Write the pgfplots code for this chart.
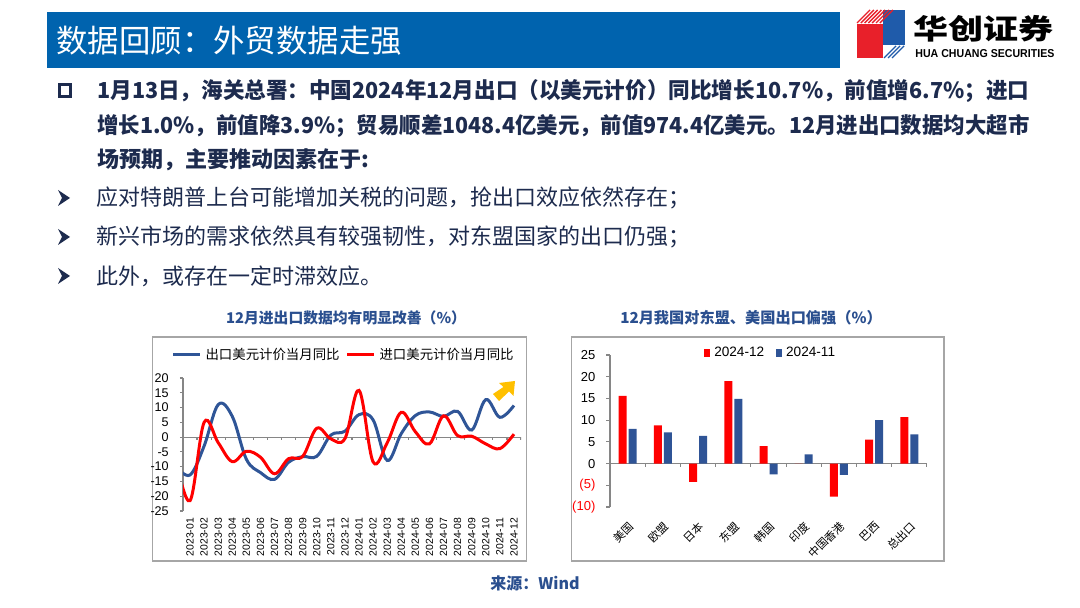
\documentclass[border=0pt]{standalone}
\usepackage{pgfplots}
\pgfplotsset{compat=1.18}
\usepackage{graphicx}
\usepackage{fontspec}
\setmainfont{Liberation Sans}
\newfontfamily\cjk{Noto Sans CJK SC}
\definecolor{barblue}{HTML}{0063AE}
\definecolor{navy}{HTML}{1D2B4E}
\definecolor{ttl}{HTML}{2A4F8F}
\definecolor{sblue}{HTML}{2F5597}
\definecolor{bblue}{HTML}{2F5496}
\definecolor{sred}{HTML}{FF0000}
\definecolor{frm}{HTML}{A6A6A6}
\definecolor{gold}{HTML}{FFC000}
\definecolor{lred}{HTML}{E8202A}
\definecolor{lblue}{HTML}{1F5BAA}
\definecolor{axg}{HTML}{868686}

\begin{document}
\begin{tikzpicture}[x=0.5pt,y=0.5pt]
\useasboundingbox (0,0) rectangle (1080,608);
\fill[white] (0,0) rectangle (1080,608);
% ---------- header ----------
\fill[barblue] (47,{608-12}) rectangle (840,{608-68});
\node[anchor=west, text=white, inner sep=0, font=\cjk\fontsize{15.7}{16}\selectfont] at (56,{608-41}) {数据回顾：外贸数据走强};
% logo
\fill[lred] (857,{608-24}) rectangle (883,{608-58});
\fill[lblue] (883,{608-10}) rectangle (905,{608-45});
\foreach \i in {0,...,6} {\draw[lred, line width=0.7pt] ({857+3.8*\i},{608-23}) -- ({870+3.8*\i},{608-10});}
\foreach \i in {0,1,2} {\draw[lblue, line width=0.7pt] ({884+4*\i},{608-58}) -- ({896+4*\i},{608-46});}
\node[anchor=west, inner sep=0, font=\cjk\bfseries\fontsize{17.5}{18}\selectfont] at (913,{608-29}) {\scalebox{1}[0.8]{华创证券}};
\node[anchor=west, inner sep=0, font=\bfseries] at (915,{608-54}) {\resizebox{69.5pt}{4pt}{HUA CHUANG SECURITIES}};
% ---------- body text ----------
\draw[navy, line width=1.6pt] (59.5,{608-84.5}) rectangle (70.5,{608-96.5});
\node[anchor=west, inner sep=0, text=navy, font=\cjk\bfseries\fontsize{11}{13}\selectfont] at (97,{608-91}) {\resizebox{466pt}{\height}{1月13日，海关总署：中国2024年12月出口（以美元计价）同比增长10.7\%，前值增6.7\%；进口}};
\node[anchor=west, inner sep=0, text=navy, font=\cjk\bfseries\fontsize{11}{13}\selectfont] at (97,{608-126}) {\resizebox{466pt}{\height}{增长1.0\%，前值降3.9\%；贸易顺差1048.4亿美元，前值974.4亿美元。12月进出口数据均大超市}};
\node[anchor=west, inner sep=0, text=navy, font=\cjk\bfseries\fontsize{11}{13}\selectfont] at (97,{608-160}) {场预期，主要推动因素在于:};
\foreach \yc in {198,237,276} {\fill[navy] (58,{608-\yc+8}) -- (70,{608-\yc}) -- (58,{608-\yc-8}) -- (62,{608-\yc}) -- cycle;}
\node[anchor=west, inner sep=0, text=navy, font=\cjk\fontsize{11}{13}\selectfont] at (96,{608-198}) {应对特朗普上台可能增加关税的问题，抢出口效应依然存在；};
\node[anchor=west, inner sep=0, text=navy, font=\cjk\fontsize{11}{13}\selectfont] at (96,{608-237}) {新兴市场的需求依然具有较强韧性，对东盟国家的出口仍强；};
\node[anchor=west, inner sep=0, text=navy, font=\cjk\fontsize{11}{13}\selectfont] at (96,{608-276}) {此外，或存在一定时滞效应。};
% ---------- chart titles and frames ----------
\node[text=ttl, inner sep=0, font=\cjk\bfseries\fontsize{7.4}{8}\selectfont] at (346,{608-318}) {12月进出口数据均有明显改善（\%）};
\node[text=ttl, inner sep=0, font=\cjk\bfseries\fontsize{7.6}{8}\selectfont] at (751,{608-318}) {12月我国对东盟、美国出口偏强（\%）};
\draw[frm, line width=0.75pt] (152.5,{608-337}) rectangle (526.5,{608-561});
\draw[frm, line width=0.75pt] (571.5,{608-337}) rectangle (944,{608-561});
\node[text=ttl, inner sep=0, font=\cjk\bfseries\fontsize{8}{9}\selectfont] at (535,{608-583}) {来源：Wind};

% ---------- chart 1 ----------
\begin{axis}[
  at={(91.5pt,48.5pt)}, anchor=south west,
  width=169pt, height=66.5pt, scale only axis,
  xmin=-0.5, xmax=23.5, ymin=-25, ymax=20,
  enlargelimits=false,
  axis y line*=left, axis x line*=bottom,
  axis line style={-},
  x axis line style={draw=none},
  y axis line style={draw=axg, line width=0.6pt},
  ytick={-25,-20,...,20},
  yticklabels={-25,-20,-15,-10,-5,0,5,10,15,20},
  yticklabel style={font=\fontsize{6.3}{7}\selectfont, text=black, xshift=-2pt},
  ytick align=outside,
  y tick style={draw=axg, line width=0.6pt},
  major tick length=1.6pt,
  xtick={0,...,23},
  xticklabels={2023-01,2023-02,2023-03,2023-04,2023-05,2023-06,2023-07,2023-08,2023-09,2023-10,2023-11,2023-12,2024-01,2024-02,2024-03,2024-04,2024-05,2024-06,2024-07,2024-08,2024-09,2024-10,2024-11,2024-12},
  x tick style={draw=none},
  xticklabel style={rotate=90, anchor=east, font=\fontsize{5.2}{6}\selectfont, text=black},
  legend columns=2,
  legend style={at={(axis description cs:0.478,1.173)}, anchor=center, draw=none, fill=none,
    font=\cjk\fontsize{6.7}{7}\selectfont, inner sep=0pt,
    /tikz/every even column/.append style={column sep=1pt}},
  legend image code/.code={\draw[#1] (0pt,0pt) -- (13.5pt,0pt);},
]
\draw[axg, line width=0.6pt] (axis cs:-0.5,0) -- (axis cs:23.5,0);
\pgfplotsinvokeforeach{0.5,1.5,...,23.5}{\draw[axg, line width=0.6pt] (axis cs:#1,0) -- ++(0pt,-1.6pt);}
\addplot[sblue, line width=1.5pt, smooth, tension=0.6] coordinates {
(-1,-9.9) (0,-12.8) (1,-3.0) (2,11.0) (3,7.0) (4,-7.5) (5,-12.0) (6,-14.3) (7,-8.5) (8,-6.6) (9,-6.5) (10,0.7) (11,2.0)
(12,7.6) (13,5.8) (14,-7.9) (15,1.2) (16,7.3) (17,8.5) (18,7.0) (19,8.7) (20,2.4) (21,12.7) (22,6.7) (23,10.7)};
\addlegendentry{出口美元计价当月同比}
\addplot[sred, line width=1.5pt, smooth, tension=0.6] coordinates {
(-1,-7.5) (0,-21.5) (1,5.0) (2,-1.9) (3,-8.3) (4,-4.8) (5,-6.8) (6,-12.4) (7,-7.3) (8,-6.5) (9,3.0) (10,-0.6) (11,-0.5)
(12,15.8) (13,-8.4) (14,-1.9) (15,8.4) (16,1.8) (17,-2.3) (18,7.2) (19,0.5) (20,0.3) (21,-2.3) (22,-3.9) (23,1.0)};
\addlegendentry{进口美元计价当月同比}
\end{axis}
% yellow arrow
\fill[gold] (515,{608-381}) -- (499,{608-383}) -- (503.5,{608-387}) -- (493,{608-394}) -- (499,{608-401}) -- (509,{608-391.5}) -- (513.5,{608-396}) -- cycle;

% ---------- chart 2 ----------
\begin{axis}[
  at={(305pt,50.5pt)}, anchor=south west,
  width=158.5pt, height=76pt, scale only axis,
  xmin=-0.5, xmax=8.5, ymin=-10, ymax=25,
  enlargelimits=false,
  ybar=1pt, bar width=4pt,
  axis y line*=left, axis x line*=bottom,
  axis line style={-},
  x axis line style={draw=none},
  y axis line style={draw=axg, line width=0.6pt},
  ytick={-10,-5,...,25},
  yticklabels={\textcolor{red}{(10)},\textcolor{red}{(5)},0,5,10,15,20,25},
  yticklabel style={font=\fontsize{6.5}{7}\selectfont, text=black, xshift=-2pt},
  ytick align=outside,
  y tick style={draw=axg, line width=0.6pt},
  major tick length=1.8pt,
  xtick={0,...,8},
  xticklabels={美国,欧盟,日本,东盟,韩国,印度,中国香港,巴西,总出口},
  x tick style={draw=none},
  xticklabel style={rotate=45, anchor=north east, font=\cjk\fontsize{5.6}{6}\selectfont, text=black},
  legend columns=2,
  legend style={at={(axis description cs:0.51,1.013)}, anchor=center, draw=none, fill=none,
    font=\fontsize{6.8}{7}\selectfont, inner sep=0pt,
    /tikz/every even column/.append style={column sep=4pt}},
  legend image code/.code={\fill[#1] (0pt,-1.8pt) rectangle (3pt,1.8pt);},
]
\draw[axg, line width=0.6pt] (axis cs:-0.5,0) -- (axis cs:8.5,0);
\pgfplotsinvokeforeach{0.5,1.5,...,8.5}{\draw[axg, line width=0.6pt] (axis cs:#1,0) -- ++(0pt,-1.8pt);}
\addplot[fill=sred, draw=none] coordinates {(0,15.6) (1,8.8) (2,-4.2) (3,19.0) (4,4.0) (5,0) (6,-7.6) (7,5.5) (8,10.7)};
\addlegendentry{2024-12}
\addplot[fill=bblue, draw=none] coordinates {(0,8.0) (1,7.2) (2,6.4) (3,14.9) (4,-2.5) (5,2.1) (6,-2.6) (7,10.0) (8,6.7)};
\addlegendentry{2024-11}
\end{axis}
\end{tikzpicture}
\end{document}
